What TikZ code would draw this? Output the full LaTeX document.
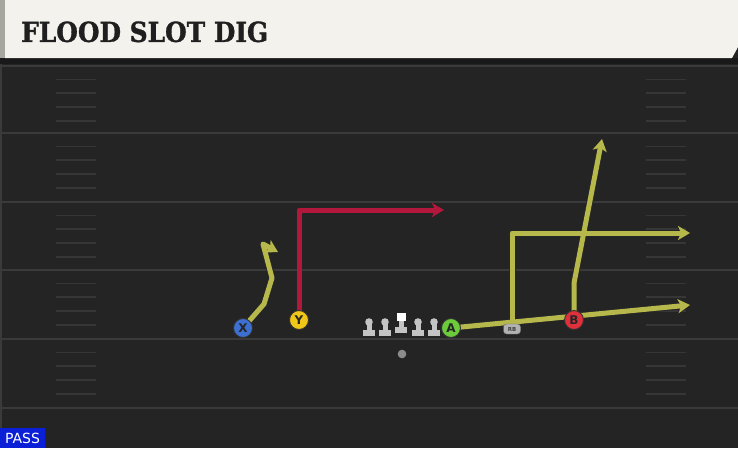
\documentclass[tikz,border=0pt]{standalone}
\usepackage{fontspec}
\setmainfont{DejaVu Sans}
\newfontfamily\titlefont[BoldFeatures={FakeBold=1.2}]{DejaVu Serif}
\usetikzlibrary{arrows.meta}
\definecolor{fieldbg}{HTML}{242424}
\definecolor{fieldline}{HTML}{3A3A3A}
\definecolor{hashc}{HTML}{363636}
\definecolor{headbg}{HTML}{F4F2EC}
\definecolor{headstrip}{HTML}{A6A89F}
\definecolor{routeyg}{HTML}{B7B84B}
\definecolor{routered}{HTML}{B3173B}
\definecolor{pblue}{HTML}{3D6FD2}
\definecolor{pyellow}{HTML}{F0C618}
\definecolor{pgreen}{HTML}{6BCB3A}
\definecolor{pred}{HTML}{E0303C}
\definecolor{passblue}{HTML}{0A1FD6}
\definecolor{linec}{HTML}{C4C4C4}
\tikzset{
  yardline/.style={draw=fieldline, line width=2pt},
  hashmark/.style={draw=hashc, line width=1.6pt},
  routebase/.style={line width=5pt, line join=round, -{Stealth[length=12pt,width=14pt,inset=3pt]}},
  routeout/.style={line width=7pt, line join=round, draw=black!85, -{Stealth[length=13.5pt,width=16.5pt,inset=3pt]}},
  player/.style={circle, draw=black!80, line width=0.9pt, minimum size=19pt, inner sep=0pt, font=\bfseries\fontsize{12}{12}\selectfont, text=black!85},
  lineman/.style={fill=linec}
}
\begin{document}
\begin{tikzpicture}[x=1pt,y=-1pt]
\useasboundingbox (0,0) rectangle (738,448);
\fill[fieldbg] (0,0) rectangle (738,448);
\fill[fieldline] (0,58) rectangle (2,448);
% header
\fill[black!90] (0,58) rectangle (738,64);
\fill[headstrip] (0,0) rectangle (5,58);
\fill[headbg] (5,0) -- (738,0) -- (738,47) -- (732,58) -- (5,58) -- cycle;
\node[anchor=south west, inner sep=0pt, text=black!88] (title) at (21,42.5)
  {\resizebox{247pt}{20.5pt}{\titlefont\bfseries FLOOD SLOT DIG}};
% yard lines and hashes
\foreach \y in {66,133,202,270,339,408} {
  \draw[yardline] (0,\y) -- (738,\y);
}
\foreach \y in {66,133,202,270,339} {
  \foreach \d in {13.5,27,41,55} {
    \draw[hashmark] (56,\y+\d) -- (96,\y+\d);
    \draw[hashmark] (646,\y+\d) -- (686,\y+\d);
  }
}
% nodes
\coordinate (xs) at (243,328);
\coordinate (ys) at (299,320);
\coordinate (as) at (451,328);
\coordinate (rbs) at (512,327);
\coordinate (bs) at (574,320);
\coordinate (x1) at (264,304);
\coordinate (x2) at (272,278);
\coordinate (x3) at (263,244);
\coordinate (xe) at (278,252);
\coordinate (y1) at (299,210);
\coordinate (ye) at (444,210);
\coordinate (ae) at (690,305);
\coordinate (r1) at (512,233);
\coordinate (re) at (690,233);
\coordinate (b1) at (574,283);
\coordinate (be) at (602,139);
% routes (outlines)
\draw[routeout] (xs) -- (x1) -- (x2) -- (x3) -- (xe);
\draw[routeout] (as) -- (ae);
\draw[routeout] (rbs) -- (r1) -- (re);
\draw[routeout] (bs) -- (b1) -- (be);
% routes
\draw[routebase, draw=routeyg] (xs) -- (x1) -- (x2) -- (x3) -- (xe);
\draw[routebase, draw=routered] (ys) -- (y1) -- (ye);
\draw[routebase, draw=routeyg] (as) -- (ae);
\draw[routebase, draw=routeyg] (rbs) -- (r1) -- (re);
\draw[routebase, draw=routeyg] (bs) -- (b1) -- (be);
% linemen
\foreach \lx/\nm in {369/lt,385/lg,418/rg,434/rt} {
  \fill[lineman] (\lx-2.5,322) rectangle (\lx+2.5,331);
  \fill[lineman] (\lx-6,330) rectangle (\lx+6,336);
  \fill[lineman] (\lx,322) circle (3.8);
  \coordinate (\nm) at (\lx,328);
}
\fill[lineman] (401-2.5,318) rectangle (401+2.5,328);
\fill[lineman] (401-6,327) rectangle (401+6,333);
\fill[white] (396.5,313) rectangle (405.5,321);
\coordinate (c) at (401,322);
% QB
\fill[black!45] (402,354) circle (4.3);
\coordinate (qb) at (402,354);
% players
\node[player, fill=pblue] (X) at (xs) {X};
\node[player, fill=pyellow] (Y) at (ys) {Y};
\node[player, fill=pgreen] (A) at (as) {A};
\node[player, fill=pred] (B) at (bs) {B};
\node[draw=black!60, fill=black!30, rounded corners=3pt, minimum width=17pt, minimum height=10pt, inner sep=0pt, font=\bfseries\fontsize{5.5}{5.5}\selectfont, text=black!75] (RB) at (512,329) {RB};
% pass label
\fill[passblue] (0,428) rectangle (45,448);
\node[anchor=center, inner sep=0pt, text=white, font=\fontsize{14}{14}\selectfont] (pass) at (22.5,438.5) {PASS};
\end{tikzpicture}
\end{document}
